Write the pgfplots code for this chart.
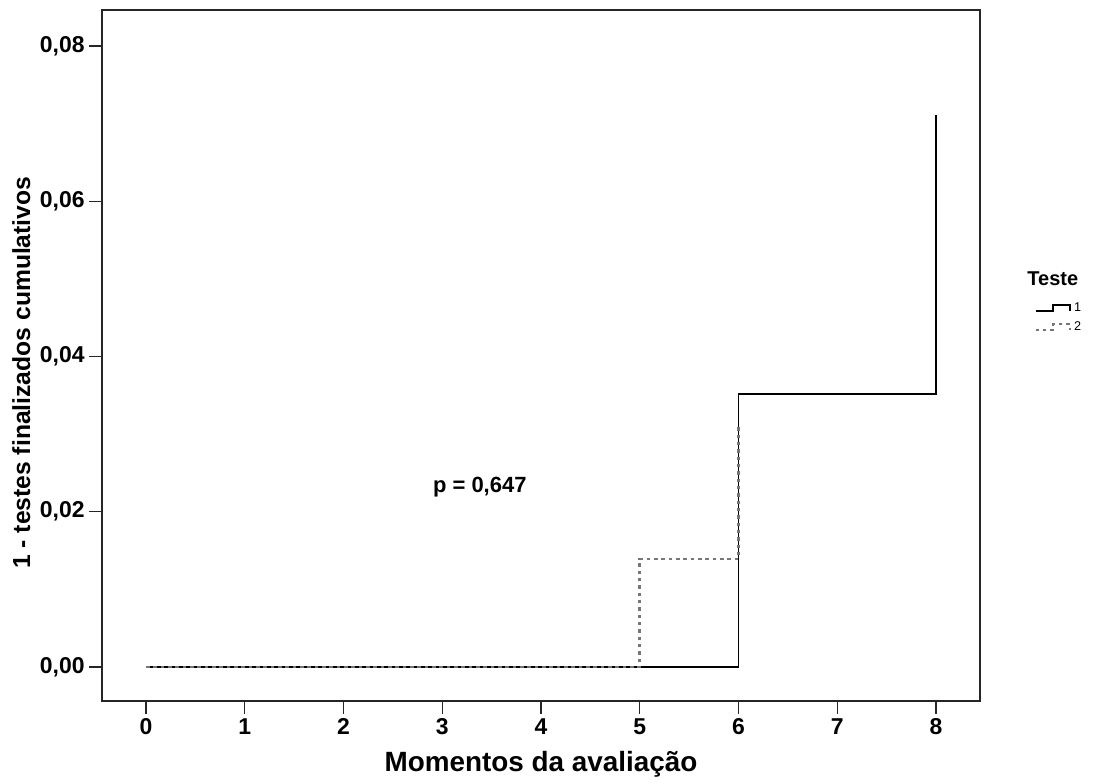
\documentclass[border=0pt]{standalone}
\usepackage{fontspec}
\setmainfont{Liberation Sans}
\usepackage{pgfplots}
\pgfplotsset{compat=1.18}
\pgfplotsset{steplegend/.style={legend image code/.code={\draw[##1] (0pt,-2.2pt) -- (13pt,-2.2pt) -- (13pt,2.3pt) -- (26pt,2.3pt) -- (26pt,-2.2pt);}}}
\begin{document}
\begin{tikzpicture}
\path[use as bounding box] (-76.5pt,-62.25pt) rectangle (745.5pt,525.75pt);
\begin{axis}[
 at={(0,0)}, anchor=south west, scale only axis,
 width=658.5pt, height=518.25pt,
 xmin=-0.446, xmax=8.446, ymin=-0.00438, ymax=0.08464,
 xtick={0,1,2,3,4,5,6,7,8}, ytick={0,0.02,0.04,0.06,0.08},
 tick align=outside, xtick pos=bottom, ytick pos=left,
 major tick length=9.5pt,
 axis line style={line width=1pt, black!85},
 tick style={line width=1pt, black!85},
 /pgf/number format/assume math mode=true,
 tick label style={font=\fontsize{17.2}{19}\selectfont\bfseries},
 yticklabel style={/pgf/number format/.cd, fixed, fixed zerofill, precision=2, use comma},
 scaled y ticks=false,
 xlabel={Momentos da avaliação}, ylabel={1 - testes finalizados cumulativos},
 xlabel style={font=\fontsize{20.9}{23}\selectfont\bfseries, at={(axis description cs:0.5,-0.0912)}, anchor=center},
 ylabel style={font=\fontsize{18.5}{21}\selectfont\bfseries, at={(axis description cs:-0.092,0.475)}, anchor=center},
 clip=false,
 legend style={at={(rel axis cs:1.0615,0.581)}, anchor=north west, draw=none, fill=none,
   font=\fontsize{9.5}{11}\selectfont, inner sep=0pt, row sep=2.5pt,
   /tikz/every even column/.append style={column sep=3pt}},
 legend cell align=left,
]
\addplot[black, line width=1.4pt, steplegend]
  coordinates {(0,0) (6,0) (6,0.0352) (8,0.0352) (8,0.0711)};
\addlegendentry{1}
\addplot[color={rgb,255:red,118;green,118;blue,118}, line width=1.9pt, dash pattern=on 2.6pt off 2.9pt, steplegend]
  coordinates {(0,0) (5,0) (5,0.0139) (6,0.0139) (6,0.0312)};
\addlegendentry{2}
\node[font=\fontsize{15}{17}\selectfont\bfseries] at (rel axis cs:1.083,0.611) {Teste};
\node[font=\fontsize{16.5}{18}\selectfont\bfseries] at (axis cs:3.38,0.0232) {p = 0,647};
\end{axis}
\end{tikzpicture}
\end{document}
